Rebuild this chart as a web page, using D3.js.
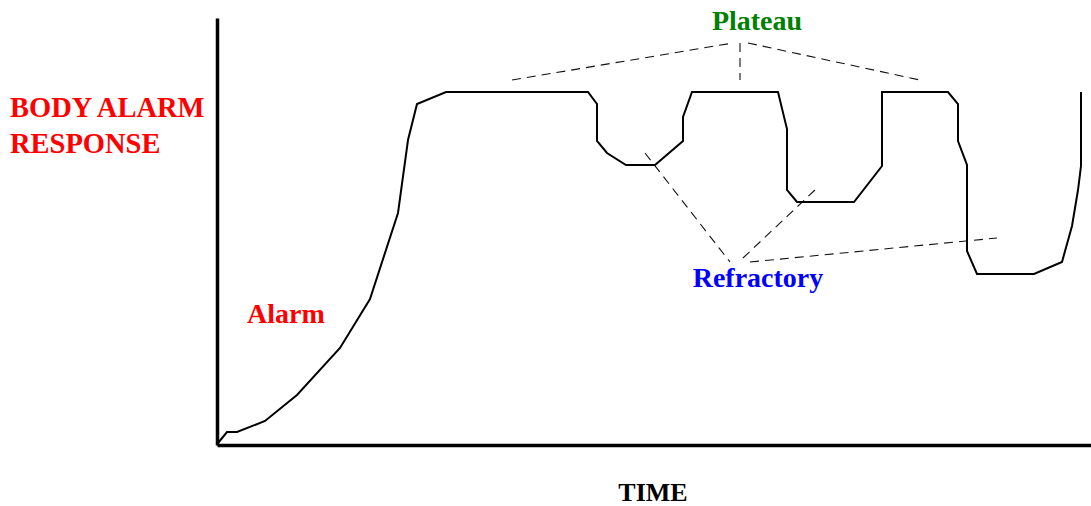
<!DOCTYPE html>
<html>
<head>
<meta charset="utf-8">
<script src="https://cdn.jsdelivr.net/npm/d3@7"></script>
<style>
html,body{margin:0;padding:0;background:#fff;}
text{font-family:"Liberation Serif","Times New Roman",serif;font-weight:bold;}
</style>
</head>
<body>
<svg id="chart" width="1091" height="506"></svg>
<script>
// Time (arbitrary units) and body alarm response (arbitrary units)
const time = [1,10,20,48,80,123,153,181,191,200,229,371,380,380,390,409,438,466,466,475,561,570,570,580,637,665,665,731,741,741,750,750,760,817,845,855,861,864,864];
const response = [2,13,13,24,50,97,146,232,305,341,353,353,341,304,292,280,280,304,328,353,353,316,255,243,243,279,353,353,341,304,280,194,171,171,183,219,255,279,353];

// Annotation leader lines [t1, r1, t2, r2]
const plateauLeaders = [[295,365,516,402],[523,402,523,365],[531,402,703,365]];
const refractoryLeaders = [[428,292,513,183],[526,187,599,256],[533,183,780,207]];

// Labels
const labels = [
  {text:"Plateau", t:540, r:415, color:"#008000", anchor:"middle"},
  {text:"Refractory", t:541, r:158, color:"#0000ff", anchor:"middle"},
  {text:"Alarm", t:30, r:122, color:"#ff0000", anchor:"start"}
];
const yTitle = ["BODY ALARM","RESPONSE"];
const xTitle = "TIME";

const svg = d3.select("#chart");
const x = d3.scaleLinear().domain([0,874]).range([217,1091]);
const y = d3.scaleLinear().domain([0,427]).range([445,18]);

// axes
svg.append("g").attr("transform",`translate(0,${y(0)})`)
  .call(d3.axisBottom(x).tickValues([]).tickSizeOuter(0));
svg.append("g").attr("transform",`translate(${x(0)},0)`)
  .call(d3.axisLeft(y).tickValues([]).tickSizeOuter(0));
svg.selectAll(".domain").attr("stroke","#000").attr("stroke-width",3.5);

// leader lines
svg.append("g").selectAll("line").data(plateauLeaders.concat(refractoryLeaders)).join("line")
  .attr("x1",d=>x(d[0])).attr("y1",d=>y(d[1]))
  .attr("x2",d=>x(d[2])).attr("y2",d=>y(d[3]))
  .attr("stroke","#111").attr("stroke-width",1.1)
  .attr("stroke-dasharray","9,6");

// main curve
const pts = time.map((t,i)=>[t,response[i]]);
svg.append("path").datum(pts)
  .attr("fill","none").attr("stroke","#000").attr("stroke-width",2)
  .attr("stroke-linejoin","miter")
  .attr("d",d3.line().x(d=>x(d[0])).y(d=>y(d[1])));

// labels
svg.append("g").selectAll("text").data(labels).join("text")
  .attr("x",d=>x(d.t)).attr("y",d=>y(d.r))
  .attr("text-anchor",d=>d.anchor)
  .attr("fill",d=>d.color).attr("font-size",28)
  .text(d=>d.text);

svg.append("g").selectAll("text").data(yTitle).join("text")
  .attr("x",10).attr("y",(d,i)=>117+i*36)
  .attr("fill","#ff0000").attr("font-size",28.5)
  .text(d=>d);

svg.append("text").attr("x",653).attr("y",501)
  .attr("text-anchor","middle").attr("fill","#000").attr("font-size",26)
  .text(xTitle);
</script>
</body>
</html>
